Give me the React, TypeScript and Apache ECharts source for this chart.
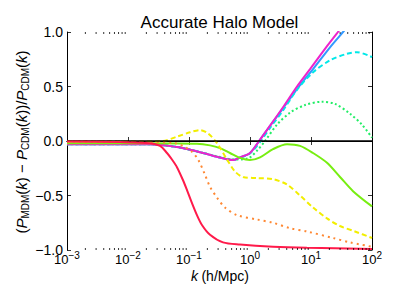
import React, { useEffect, useRef } from "react";
import * as echarts from "echarts";

// ---- data (k in h/Mpc, values = (P_MDM - P_CDM)/P_CDM) ----
const redK = [0.001, 0.0074, 0.023, 0.0335, 0.0436, 0.0526, 0.0635, 0.0798, 0.0927, 0.112, 0.135, 0.163, 0.221, 0.361, 0.685, 2.38, 8.59, 100];
const redV = [-0.005, -0.01, -0.02, -0.045, -0.11, -0.17, -0.24, -0.36, -0.45, -0.57, -0.68, -0.77, -0.86, -0.93, -0.95, -0.97, -0.98, -0.99];

const orangeK = [0.001, 0.023, 0.0589, 0.0859, 0.112, 0.141, 0.183, 0.221, 0.288, 0.389, 0.612, 1.3, 2.38, 4.53, 8.59, 23.0, 43.6, 100];
const orangeV = [-0.005, -0.01, -0.02, -0.055, -0.1, -0.17, -0.31, -0.42, -0.52, -0.61, -0.68, -0.72, -0.75, -0.8, -0.83, -0.89, -0.93, -0.97];

const yellowK = [0.001, 0.0157, 0.0375, 0.0635, 0.104, 0.151, 0.205, 0.288, 0.42, 0.568, 0.767, 1.3, 2.38, 4.05, 6.61, 10.8, 18.3, 29.9, 52.6, 100];
const yellowV = [-0.005, -0.005, 0.0, 0.04, 0.08, 0.1, 0.07, -0.02, -0.17, -0.28, -0.33, -0.34, -0.35, -0.4, -0.5, -0.61, -0.71, -0.78, -0.83, -0.89];

const greenK = [0.001, 0.023, 0.135, 0.221, 0.322, 0.47, 0.685, 1.0, 1.46, 2.38, 4.05, 6.61, 10.8, 18.3, 29.9, 48.9, 100];
const greenV = [-0.02, -0.02, -0.025, -0.04, -0.065, -0.11, -0.155, -0.175, -0.15, -0.075, -0.03, -0.045, -0.11, -0.2, -0.33, -0.46, -0.6];

const springK = [0.001, 0.023, 0.0635, 0.104, 0.17, 0.288, 0.568, 0.927, 1.35, 1.76, 2.77, 4.53, 7.98, 15.1, 24.7, 43.6, 68.5, 100];
const springV = [-0.03, -0.03, -0.055, -0.08, -0.11, -0.14, -0.17, -0.16, -0.08, 0.0, 0.15, 0.26, 0.33, 0.36, 0.34, 0.25, 0.15, 0.03];

const cyanK = [0.001, 0.023, 0.0635, 0.104, 0.17, 0.288, 0.526, 0.685, 1.0, 1.46, 2.13, 3.48, 5.89, 10.8, 20.5, 38.9, 56.8, 100];
const cyanV = [-0.03, -0.03, -0.055, -0.08, -0.11, -0.145, -0.175, -0.155, -0.115, -0.01, 0.12, 0.28, 0.47, 0.63, 0.74, 0.8, 0.815, 0.77];

const blueK = [0.001, 0.023, 0.0635, 0.104, 0.17, 0.288, 0.526, 0.685, 1.0, 1.41, 2.13, 3.48, 6.37, 10.8, 20.5, 33.5, 52.6];
const blueV = [-0.03, -0.03, -0.055, -0.08, -0.11, -0.145, -0.175, -0.15, -0.11, 0.0, 0.14, 0.3, 0.5, 0.66, 0.86, 1.0, 1.13];

const magentaK = [0.001, 0.023, 0.0635, 0.104, 0.17, 0.288, 0.526, 0.685, 1.0, 1.41, 2.13, 3.48, 5.89, 9.64, 18.3, 27.7, 43.6];
const magentaV = [-0.03, -0.03, -0.055, -0.08, -0.11, -0.145, -0.175, -0.15, -0.11, 0.0, 0.14, 0.31, 0.5, 0.66, 0.87, 1.0, 1.14];

const yTickLabels: Record<string, string> = { "1": "1.0", "0.5": "0.5", "0": "0.0", "-0.5": "\u22120.5", "-1": "\u22121.0" };

const minorTicks: number[] = [];
for (let e = -3; e < 2; e++) for (let m = 2; m <= 9; m++) minorTicks.push(m * Math.pow(10, e));

const FONT = "Liberation Sans";

const pair = (ks: number[], vs: number[]) => ks.map((k, i) => [k, vs[i]]);

function line(name: string, ks: number[], vs: number[], color: string, type: any, width = 2, z = 2) {
  return {
    name,
    type: "line",
    data: pair(ks, vs),
    showSymbol: false,
    smooth: 0.3,
    clip: true,
    z,
    lineStyle: { color, width, type },
    silent: true,
  };
}

export default function App() {
  const ref = useRef<HTMLDivElement>(null);
  useEffect(() => {
    if (!ref.current) return;
    const chart = echarts.init(ref.current, null, { renderer: "svg" });
    const xCommon = {
      type: "log",
      logBase: 10,
      min: 0.001,
      max: 100,
      axisLine: { show: true, lineStyle: { color: "#000", width: 1 } },
      axisTick: { show: true, inside: true, length: 4, lineStyle: { color: "#000", width: 0.8 } },
      splitLine: { show: false },
    };
    const yCommon = {
      type: "value",
      min: -1,
      max: 1,
      interval: 0.5,
      axisLine: { show: true, lineStyle: { color: "#000", width: 1 } },
      axisTick: { show: true, inside: true, length: 4, lineStyle: { color: "#000", width: 0.8 } },
      splitLine: { show: false },
    };
    chart.setOption({
      animation: false,
      grid: { left: 67, right: 27, top: 32, bottom: 49, containLabel: false },
      xAxis: [
        {
          ...xCommon,
          position: "bottom",
          axisLabel: {
            show: true,
            margin: 0,
            formatter: (v: number) => {
              const e = Math.round(Math.log10(v));
              const s = e < 0 ? "\u2212" + Math.abs(e) : String(e);
              return "{b|10}{s|" + s + "}";
            },
            rich: {
              b: { fontFamily: FONT, fontSize: 13, color: "#000", lineHeight: 18 },
              s: { fontFamily: FONT, fontSize: 10, color: "#000", lineHeight: 10, verticalAlign: "top" },
            },
          },
        },
        { ...xCommon, position: "top", axisLabel: { show: false } },
      ],
      yAxis: [
        {
          ...yCommon,
          position: "left",
          axisLabel: {
            show: true,
            margin: 4,
            fontFamily: FONT,
            fontSize: 14,
            color: "#000",
            formatter: (v: number) => yTickLabels[String(Math.round(v * 2) / 2)] ?? String(v),
          },
        },
        { ...yCommon, position: "right", axisLabel: { show: false } },
      ],
      series: [
        line("blue", blueK, blueV, "#3399ff", "solid", 2, 2),
        line("cyan", cyanK, cyanV, "#00e8e8", [5, 3], 2, 2),
        line("spring", springK, springV, "#22ee66", [2, 2.5], 2, 2),
        line("magenta", magentaK, magentaV, "#ee22cc", "solid", 2, 3),
        line("green", greenK, greenV, "#77ee11", "solid", 2, 3),
        line("yellow", yellowK, yellowV, "#f2ee00", [5, 3], 2, 3),
        line("orange", orangeK, orangeV, "#ff8833", [2, 4], 2, 3),
        {
          name: "zero",
          type: "line",
          data: [[0.001, 0], [100, 0]],
          showSymbol: false,
          z: 4,
          lineStyle: { color: "#000", width: 1.5 },
          silent: true,
        },
        line("red", redK, redV, "#ff1a4a", "solid", 2, 5),
        {
          name: "minor",
          type: "custom",
          data: minorTicks.map((k) => [k, 0]),
          clip: false,
          silent: true,
          z: 6,
          renderItem: (params: any, api: any) => {
            const k = api.value(0);
            const pb = api.coord([k, -1]);
            const pt = api.coord([k, 1]);
            const st = { stroke: "#000", lineWidth: 0.8 };
            return {
              type: "group",
              children: [
                { type: "line", shape: { x1: pb[0], y1: pb[1], x2: pb[0], y2: pb[1] - 2 }, style: st },
                { type: "line", shape: { x1: pt[0], y1: pt[1], x2: pt[0], y2: pt[1] + 2 }, style: st },
              ],
            };
          },
        },
      ],
      graphic: [
        {
          type: "text",
          x: 219.5,
          y: 22,
          style: {
            text: "Accurate Halo Model",
            fontFamily: FONT,
            fontSize: 17,
            fill: "#000",
            textAlign: "center",
            textVerticalAlign: "middle",
          },
        },
        {
          type: "text",
          x: 220,
          y: 276,
          style: {
            text: "{i|k} {n|(h/Mpc)}",
            textAlign: "center",
            textVerticalAlign: "middle",
            rich: {
              i: { fontFamily: FONT, fontSize: 14, fontStyle: "italic", fill: "#000" },
              n: { fontFamily: FONT, fontSize: 14, fill: "#000" },
            },
          },
        },
        {
          type: "text",
          x: 21,
          y: 142,
          rotation: Math.PI / 2,
          style: {
            text:
              "{n|(}{i|P}{s|MDM}{n|(}{i|k}{n|) \u2212 }{i|P}{s|CDM}{n|(}{i|k}{n|))/}{i|P}{s|CDM}{n|(}{i|k}{n|)}",
            textAlign: "center",
            textVerticalAlign: "middle",
            rich: {
              n: { fontFamily: FONT, fontSize: 15, fill: "#000", lineHeight: 18 },
              i: { fontFamily: FONT, fontSize: 15, fontStyle: "italic", fill: "#000", lineHeight: 18 },
              s: { fontFamily: FONT, fontSize: 10, fill: "#000", lineHeight: 11, verticalAlign: "bottom" },
            },
          },
        },
      ],
    });
    return () => chart.dispose();
  }, []);
  return <div ref={ref} style={{ width: 399, height: 299, position: "absolute", left: 0, top: 0 }} />;
}
